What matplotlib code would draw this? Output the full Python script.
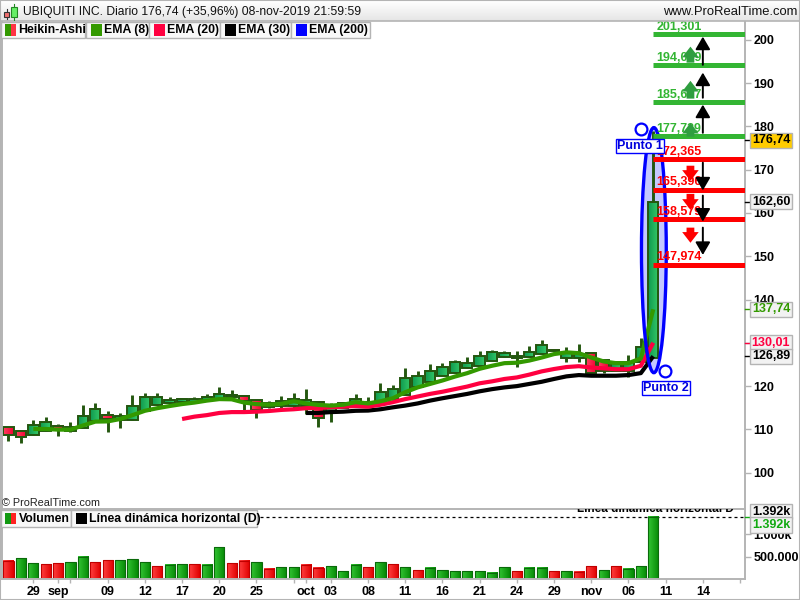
import numpy as np
import matplotlib
matplotlib.use("Agg")
import matplotlib.pyplot as plt
from matplotlib.patches import Ellipse, FancyArrowPatch, Rectangle
from matplotlib.transforms import blended_transform_factory
from matplotlib.colors import LinearSegmentedColormap

plt.rcParams['font.family'] = ['Liberation Sans', 'DejaVu Sans']

opens = [110.5,109.7,108.8,109.7,110.9,109.7,110.25,111.9,113.4,112.2,112.25,114.2,115.6,116.0,116.25,116.4,116.5,117.0,117.4,117.8,116.8,
         115.2,115.5,115.5,115.5,116.4,114.0,115.0,115.5,115.5,116.6,117.0,118.0,119.9,120.9,122.3,123.0,124.2,124.7,125.7,126.8,126.6,126.8,127.4,
         128.3,126.6,126.6,127.6,126.1,123.6,123.6,125.5,126.6]
closes = [108.7,108.2,111.0,111.6,110.1,110.5,113.2,114.7,112.4,113.0,115.5,117.55,117.4,116.8,117.0,117.0,117.55,118.2,118.0,116.6,114.5,
          116.0,116.5,117.0,116.8,112.65,115.5,116.0,117.0,116.3,118.6,119.3,121.9,122.4,123.6,124.3,125.5,125.3,127.0,127.8,127.6,127.0,127.8,129.4,
          128.0,127.6,127.4,123.0,123.6,125.5,125.5,129.0,162.6]
highs = [110.5,109.7,112.25,112.9,111.25,111.8,115.7,116.2,114.3,113.7,118.0,118.5,118.5,117.55,117.3,117.4,118.2,119.9,119.1,117.8,116.8,
         116.5,117.8,118.4,119.3,116.4,116.0,116.4,118.2,117.6,120.7,120.3,124.2,123.6,125.0,125.3,126.1,126.8,128.0,128.4,128.2,128.2,129.3,130.7,
         128.6,129.0,129.7,127.6,126.1,125.5,127.2,131.1,179.0]
lows = [107.4,106.8,108.8,109.7,108.55,109.3,110.25,111.9,109.5,110.25,112.25,114.2,115.6,115.7,116.2,116.3,116.5,117.0,117.2,114.5,112.6,
        115.0,115.0,115.0,113.6,110.65,111.65,115.0,115.5,115.5,116.6,117.0,118.0,119.9,120.9,122.3,123.0,124.2,124.7,125.7,126.8,124.5,126.8,127.4,
        128.0,125.5,125.5,123.0,123.0,123.6,122.0,125.5,126.6]
volume = [401,467,356,334,356,378,490,378,423,423,445,378,289,312,334,334,312,712,356,401,378,223,267,267,312,245,289,178,312,267,378,334,
          267,200,245,200,178,178,178,134,267,178,245,245,178,178,156,289,200,289,223,289,1392]
vol_colors = list("rggrrggrrgggrggrggrrgrggrrgggrgr" "grgggggggrggrgrrgrggg")
ema8 = [110.1,110.1,109.95,109.95,110.9,111.8,111.85,112.4,113.3,114.3,114.9,115.4,115.85,116.2,116.65,117.0,116.95,116.2,115.85,
        115.7,115.9,116.5,116.0,115.65,115.5,115.7,116.3,116.0,116.5,117.2,118.6,119.7,120.5,121.3,122.2,123.0,124.0,124.7,125.3,125.4,125.9,126.6,
        127.4,127.8,127.6,126.6,125.7,125.3,125.3,126.4,137.74]
ema20 = [112.4,112.95,113.3,113.8,114.0,114.0,114.1,114.25,114.5,114.65,114.9,115.0,115.1,115.25,115.4,115.25,115.7,116.3,117.0,117.6,118.2,118.7,
         119.3,119.9,120.65,121.1,121.65,122.0,122.65,123.4,123.95,124.4,124.6,124.3,124.1,123.9,123.9,124.7,130.01]
ema30 = [113.8,113.8,114.0,114.1,114.3,114.35,114.65,115.1,115.5,116.0,116.65,117.2,117.7,118.2,118.8,119.3,119.7,120.0,120.5,121.0,121.65,
         122.25,122.55,122.4,122.4,122.4,122.55,123.0,126.89]
ema8_start, ema20_start, ema30_start = 2, 14, 24

levels_up = [201.301, 194.059, 185.607, 177.729]
levels_up_txt = ['201,301', '194,059', '185,607', '177,729']
levels_dn = [172.365, 165.396, 158.579, 147.974]
levels_dn_txt = ['172,365', '165,396', '158,579', '147,974']
black_arrows = [(194.2,200.7),(186.6,192.4),(178.5,185.0),(171.6,165.2),(164.0,158.0),(156.6,150.3)]
green_arrows = [(194.7,198.4),(186.4,190.5),(177.6,180.8)]
red_arrows = [(170.9,167.4),(164.4,160.7),(156.6,153.1)]

price_ticks = list(range(100, 201, 10))
x_ticks = [2,4,5,8,11,14,17,20,23,24,26,29,32,35,38,41,44,47,50,53,56,59]
x_labels = ['29','sep','','09','12','17','20','25','','oct','03','08','11','16','21','24','29','nov','06','11','14','']

GRAY = '#b4b4b4'
DARK = '#24570f'
XLIM = (-0.524, 59.4)
YLIM = (91.85, 204.09)
fig = plt.figure(figsize=(8, 6), dpi=100, facecolor='white')

def axes_px(x0, y0, x1, y1, **kw):
    return fig.add_axes([x0/800, 1-y1/600, (x1-x0)/800, (y1-y0)/600], **kw)

ax = axes_px(2, 22, 745, 508)

cm_g = LinearSegmentedColormap.from_list('g', ['#0f9a50', '#35c968'])
cm_r = LinearSegmentedColormap.from_list('r', ['#ff4060', '#f00030'])
cm_vg = LinearSegmentedColormap.from_list('vg', ['#33c433', '#058a05'])
cm_vr = LinearSegmentedColormap.from_list('vr', ['#ff4040', '#e00000'])
grad = np.linspace(0, 1, 16).reshape(1, -1)
W = 0.84
for i, (o, c, h, l) in enumerate(zip(opens, closes, highs, lows)):
    ax.vlines(i, l, h, color=DARK, lw=2.1, zorder=2)
    lo, hi = min(o, c), max(o, c)
    ax.imshow(grad, extent=(i-W/2, i+W/2, lo, hi), cmap=cm_g if c >= o else cm_r,
              aspect='auto', zorder=2.1, interpolation='bilinear')
    ax.bar(i, hi-lo, W, lo, facecolor='none', edgecolor=DARK, lw=1.4, zorder=2.2)
ax.set_xlim(*XLIM)
ax.set_ylim(*YLIM)

ax.plot(np.arange(len(ema30))+ema30_start, ema30, color='black', lw=3.0, zorder=3, solid_capstyle='butt')
ax.plot(np.arange(len(ema20))+ema20_start, ema20, color='#ff0040', lw=3.0, zorder=3.1, solid_capstyle='butt')
ax.plot(np.arange(len(ema8))+ema8_start, ema8, color='#339900', lw=3.0, zorder=3.2, solid_capstyle='butt')

ax.add_patch(Ellipse((52.05, 151.4), 2.0, 56.6, facecolor='#c4c8ff', edgecolor='none', zorder=1.5))
ax.add_patch(Ellipse((52.05, 151.4), 2.0, 56.6, facecolor='none', edgecolor='#0000ff', lw=2.4, zorder=4))
ax.plot([51, 52.95], [179.4, 123.6], 'o', mfc='none', mec='#0000ff', mew=1.6, ms=8.5, zorder=5, ls='none')
for tx, ty, s in [(50.9, 175.4, 'Punto 1'), (53.0, 119.5, 'Punto 2')]:
    ax.text(tx, ty, s, color='#0000dd', fontsize=9, fontweight='bold', ha='center', va='center', zorder=9,
            bbox=dict(fc='white', ec='#0000ff', lw=1, boxstyle='square,pad=0.08'))

for vals, txts, col in [(levels_up, levels_up_txt, '#33b533'), (levels_dn, levels_dn_txt, '#ff0000')]:
    for v, t in zip(vals, txts):
        ax.plot([52, XLIM[1]], [v, v], color=col, lw=3.6, zorder=5, solid_capstyle='butt')
        ax.annotate(t, (52.25, v), xytext=(0, 1.1), textcoords='offset points', color=col,
                    fontsize=9, fontweight='bold', va='bottom', ha='left', zorder=6)

for a, b in black_arrows:
    ax.add_patch(FancyArrowPatch((56, a), (56, b), arrowstyle='-|>,head_length=0.48,head_width=0.28',
                                 mutation_scale=16, color='black', lw=1.4, shrinkA=0, shrinkB=0, zorder=7))
for group, col in [(green_arrows, '#2f9e3f'), (red_arrows, '#ff0000')]:
    for a, b in group:
        ax.add_patch(FancyArrowPatch((55, a), (55, b), arrowstyle='simple,head_length=0.55,head_width=0.85,tail_width=0.4',
                                     mutation_scale=14, color=col, lw=0, shrinkA=0, shrinkB=0, zorder=7))

ax.set_xticks([])
ax.yaxis.tick_right()
ax.set_yticks(price_ticks)
ax.set_yticklabels([str(p) for p in price_ticks], fontsize=9, fontweight='bold')
ax.tick_params(axis='y', length=4, width=1, color=GRAY, pad=2)
for s in ['top', 'bottom']:
    ax.spines[s].set_visible(False)
for s in ['left', 'right']:
    ax.spines[s].set_color(GRAY)
    ax.spines[s].set_linewidth(1.4)

tr = blended_transform_factory(ax.transAxes, ax.transData)
xbox = (771-2)/743
for price, txt, col, fc in [(176.74, '176,74', 'black', '#ffcc00'), (162.60, '162,60', 'black', '#f2f2f2'),
                            (137.74, '137,74', '#339900', '#f2f2f2'), (130.01, '130,01', '#ff0040', '#f2f2f2'),
                            (126.89, '126,89', 'black', '#f2f2f2')]:
    ax.plot([1, 1.006], [price, price], color=col, lw=1, transform=tr, clip_on=False, zorder=8)
    ax.text(xbox, price, txt, transform=tr, color=col, fontsize=9, fontweight='bold', ha='center', va='center',
            zorder=10, clip_on=False, bbox=dict(fc=fc, ec=GRAY, lw=1, boxstyle='square,pad=0.13'))

# volume panel
vax = axes_px(2, 509, 745, 579)
VTOP = 1392*70/62.5
for i, (v, c) in enumerate(zip(volume, vol_colors)):
    up = c == 'g'
    vax.imshow(grad, extent=(i-.41, i+.41, 0, v), cmap=cm_vg if up else cm_vr, aspect='auto', zorder=2, interpolation='bilinear')
    vax.bar(i, v, 0.82, facecolor='none', edgecolor='#0a6a0a' if up else '#c00000', lw=0.8, zorder=2.2)
vax.set_xlim(*XLIM)
vax.set_ylim(0, VTOP)
vax.axhline(1392, color='black', lw=0.9, ls=(0, (2.4, 2.4)), zorder=1.5)
vtr = blended_transform_factory(vax.transAxes, vax.transData)
vax.text(0.880, VTOP, 'Línea dinámica horizontal D', transform=vtr,
         fontsize=8.5, fontweight='bold', ha='center', va='center', clip_on=True, zorder=3)
vax.yaxis.tick_right()
vax.set_yticks([500, 1000])
vax.set_yticklabels(['500.000', '1.000k'], fontsize=9, fontweight='bold')
vax.tick_params(axis='y', length=4, width=1, color=GRAY, pad=2)
vax.set_xticks(x_ticks)
vax.set_xticklabels(x_labels, fontsize=9, fontweight='bold')
vax.tick_params(axis='x', length=3, width=1, color=GRAY, pad=2)
for s, sp in vax.spines.items():
    sp.set_color(GRAY)
    sp.set_linewidth(1.4)
vax.text(xbox, 1500, '1.392k', transform=vtr, fontsize=9, fontweight='bold', ha='center', va='center', clip_on=False, zorder=9, color='black',
         bbox=dict(fc='#f2f2f2', ec=GRAY, lw=1, boxstyle='square,pad=0.13'))
vax.text(xbox, 1200, '1.392k', transform=vtr, fontsize=9, fontweight='bold', color='#11aa11', ha='center', va='center',
         clip_on=False, zorder=10, bbox=dict(fc='#f2f2f2', ec=GRAY, lw=1, boxstyle='square,pad=0.13'))
vax.plot([1, 1.006], [1392, 1392], color='#11aa11', lw=1, transform=vtr, clip_on=False, zorder=8)

# chrome overlay
ov = fig.add_axes([0, 0, 1, 1], facecolor='none', zorder=20)
ov.axis('off')
ov.imshow(np.linspace(1, 0.9, 20).reshape(-1, 1), extent=(0, 800, 21, 0), cmap='gray', vmin=0, vmax=1, aspect='auto', zorder=1)
ov.set_xlim(0, 800)
ov.set_ylim(600, 0)
ov.plot([0, 800], [21, 21], color=GRAY, lw=1.2, zorder=2)
ov.add_patch(Rectangle((0, 0), 799.5, 599.5, fc='none', ec=GRAY, lw=1.5, zorder=6))
ov.text(23, 12, 'UBIQUITI INC. Diario 176,74 (+35,96%) 08-nov-2019 21:59:59', fontsize=8.7, va='center', ha='left', color='#111111', zorder=3)
ov.text(797, 12, 'www.ProRealTime.com', fontsize=9.4, va='center', ha='right', color='#111111', zorder=3)
ov.plot([7, 7], [9, 19], color='#333333', lw=0.8, zorder=3)
ov.add_patch(Rectangle((4, 12), 5, 5, fc='#f07070', ec='#333333', lw=0.8, zorder=4))
ov.plot([14, 14], [4, 20], color='#228822', lw=0.8, zorder=3)
ov.add_patch(Rectangle((11, 7), 6, 10, fc='#66ee66', ec='#228822', lw=0.8, zorder=4))

def legend_row(items, y0, y1):
    for x0, x1, swatches, txt in items:
        ov.add_patch(Rectangle((x0, y0), x1-x0, y1-y0, fc='#f8f8f8', ec=GRAY, lw=1, zorder=3))
        n = len(swatches)
        for k, col in enumerate(swatches):
            ov.add_patch(Rectangle((x0+4.5+k*11/n, y0+2.5), 11/n, y1-y0-5, fc=col, ec='none', zorder=4))
        ov.text(x0+18, (y0+y1)/2+.3, txt, fontsize=8.8, fontweight='bold', va='center', ha='left', zorder=5)

legend_row([(0.5, 85, ['#339900', '#ff3344'], 'Heikin-Ashi'), (86, 149, ['#339900'], 'EMA (8)'),
            (149, 220, ['#ff0040'], 'EMA (20)'), (220, 291, ['#000000'], 'EMA (30)'),
            (291, 370, ['#0000ff'], 'EMA (200)')], 21.5, 38)
legend_row([(0.5, 71, ['#119911', '#ff2222'], 'Volumen'), (71, 257, ['#000000'], 'Línea dinámica horizontal (D)')], 510, 526.5)
ov.text(2, 503, '© ProRealTime.com', fontsize=7.8, va='center', ha='left', color='#222222', zorder=5)

fig.savefig('out.png', dpi=100)
